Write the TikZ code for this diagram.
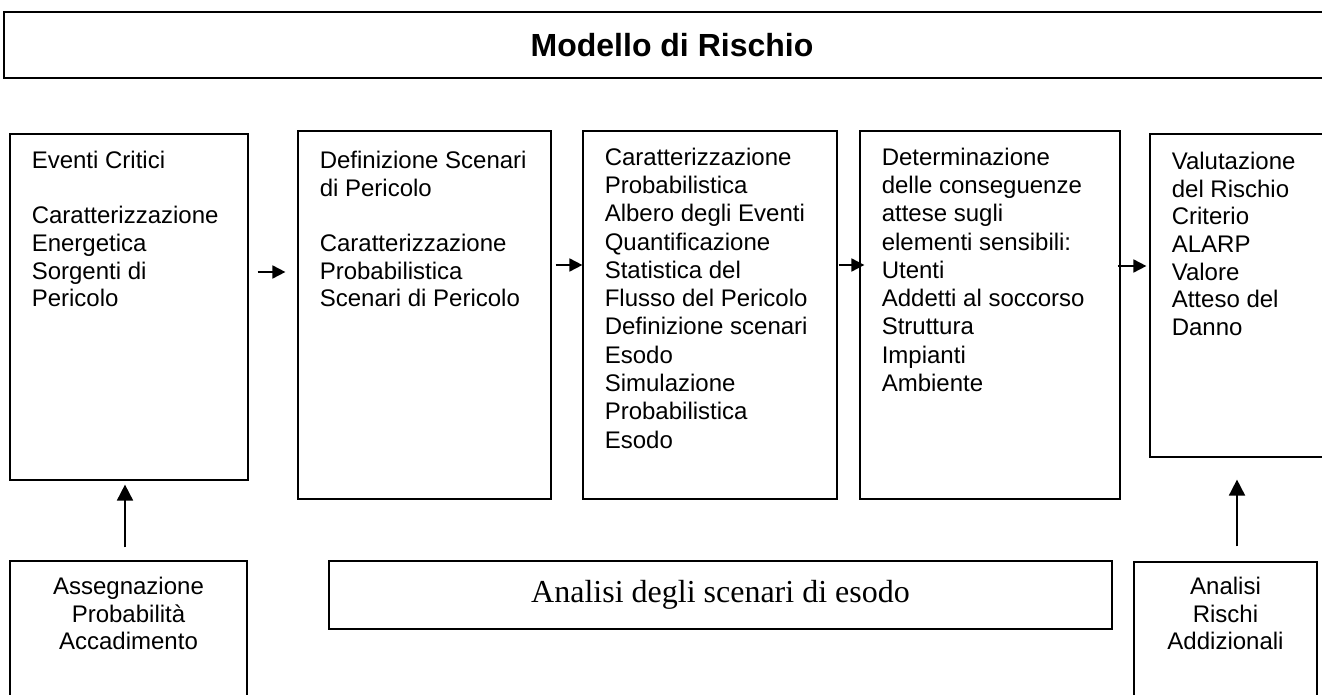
\documentclass[tikz,border=0pt]{standalone}
\usepackage{fontspec}
\setmainfont{Liberation Serif}
\newfontfamily\arialfont{Liberation Sans}
\usetikzlibrary{arrows.meta,positioning,fit,calc}

\begin{document}
\begin{tikzpicture}[x=0.5pt, y=-0.5pt,
    box/.style={draw, line width=0.6pt, inner sep=0pt},
    boxtext/.style={font=\arialfont\fontsize{12}{13.8}\selectfont, align=left, inner sep=0pt, anchor=north west},
    looser/.style={font=\arialfont\fontsize{12}{14.15}\selectfont},
    ctrtext/.style={font=\arialfont\fontsize{12}{13.8}\selectfont, align=center, inner sep=0pt, anchor=north},
    harr/.style={-{Triangle[length=6.5pt,width=6.5pt]}, line width=0.9pt},
    varr/.style={-{Triangle[length=8pt,width=8pt]}, line width=0.9pt}]
  \clip (0,0) rectangle (1322,695);
  \fill[white] (0,0) rectangle (1322,695);

  % title
  \node[box, line width=0.9pt, fit={(4,12) (1340,78)}] (model) {};
  \node[font=\arialfont\bfseries\fontsize{16}{19}\selectfont, inner sep=0pt] (title) at (model.center) {Modello di Rischio};

  % main chain
  \node[box, fit={(10,134) (248,480)}] (eventi) {};
  \node[box, fit={(298,131) (551,499)}] (scenari) {};
  \node[box, fit={(583,131) (837,499)}] (prob) {};
  \node[box, fit={(860,131) (1120,499)}] (conseg) {};
  \node[box, fit={(1150,134) (1340,457)}] (valut) {};

  \node[boxtext] (eventitxt) at ($(eventi.north west)+(22,17.5)$)
    {Eventi Critici\\[13.8pt] Caratterizzazione\\ Energetica\\ Sorgenti di\\ Pericolo};
  \node[boxtext] (scenaritxt) at ($(scenari.north west)+(22,20.5)$)
    {Definizione Scenari\\ di Pericolo\\[13.8pt] Caratterizzazione\\ Probabilistica\\ Scenari di Pericolo};
  \node[boxtext, looser] (probtxt) at ($(prob.north west)+(22,17)$)
    {Caratterizzazione\\ Probabilistica\\ Albero degli Eventi\\ Quantificazione\\ Statistica del\\
     Flusso del Pericolo\\ Definizione scenari\\ Esodo\\ Simulazione\\ Probabilistica\\ Esodo};
  \node[boxtext, looser] (consegtxt) at ($(conseg.north west)+(22,17)$)
    {Determinazione\\ delle conseguenze\\ attese sugli\\ elementi sensibili:\\ Utenti\\
     Addetti al soccorso\\ Struttura\\ Impianti\\ Ambiente};
  \node[boxtext] (valuttxt) at ($(valut.north west)+(22,18.5)$)
    {Valutazione\\ del Rischio\\ Criterio\\ ALARP\\ Valore\\ Atteso del\\ Danno};

  % bottom row
  \node[box, fit={(10,561) (247,720)}] (assegn) {};
  \node[box, fit={(329,561) (1112,629)}] (esodo) {};
  \node[box, fit={(1134,562) (1317,720)}] (rischi) {};

  \node[font=\fontsize{16}{19}\selectfont, inner sep=0pt] (esodotxt) at (esodo.center) {Analisi degli scenari di esodo};
  \node[ctrtext] (assegntxt) at ($(assegn.north)+(0,16.5)$)
    {Assegnazione\\ Probabilità\\ Accadimento};
  \node[ctrtext] (rischitxt) at ($(rischi.north)+(0,15.5)$)
    {Analisi\\ Rischi\\ Addizionali};

  % connectors
  \coordinate (lev1) at (0,272);
  \coordinate (lev2) at (0,265);
  \coordinate (lev3) at (0,266);
  \draw[harr, shorten <=4.5pt, shorten >=6pt] (eventi.east |- lev1) -- (scenari.west |- lev1);
  \draw[harr, shorten <=2pt] (scenari.east |- lev2) -- (prob.west |- lev2);
  \draw[harr, shorten <=0.5pt, shorten >=-2.5pt] (prob.east |- lev2) -- (conseg.west |- lev2);
  \draw[harr, shorten <=-1.5pt, shorten >=1.5pt] (conseg.east |- lev3) -- (valut.west |- lev3);

  \coordinate (col1) at (125,0);
  \coordinate (col2) at (1237,0);
  \draw[varr, shorten <=6.5pt, shorten >=2pt] (assegn.north -| col1) -- (eventi.south -| col1);
  \draw[varr, shorten <=7.5pt, shorten >=11pt] (rischi.north -| col2) -- (valut.south -| col2);
\end{tikzpicture}
\end{document}
